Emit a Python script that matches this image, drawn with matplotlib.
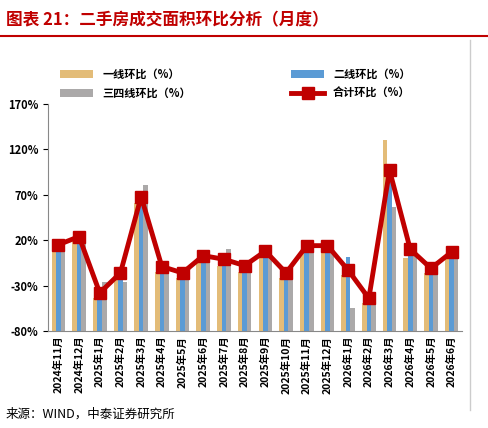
import matplotlib
matplotlib.use("Agg")
import matplotlib.pyplot as plt
import numpy as np

plt.rcParams['font.family'] = ['Noto Sans CJK SC', 'DejaVu Sans']

months = ['2024年11月','2024年12月','2025年1月','2025年2月','2025年3月','2025年4月','2025年5月',
          '2025年6月','2025年7月','2025年8月','2025年9月','2025年10月','2025年11月','2025年12月',
          '2026年1月','2026年2月','2026年3月','2026年4月','2026年5月','2026年6月']
tier1 = [9, 20, -44, -24, 61, -15, -22, -4, -8, -15, 0, -22, 7, 7, -18, -49, 130, 0, -16, 0]
tier2 = [9, 20, -44, -20, 62, -15, -22, -4, -6, -15, 0, -22, 7, 7, 1, -49, 90, 4, -16, 0]
tier34 = [9, 20, -26, -26, 81, -15, -22, -4, 10, -15, 0, -22, 7, 10, -55, -49, 57, 4, -16, 0]
total = [15, 24, -38, -16, 68, -9, -16, 3, -1, -8, 8, -16, 14, 14, -13, -44, 97, 10, -11, 7]

W, H = 488, 428
fig = plt.figure(figsize=(W/100, H/100), dpi=100)
ax = fig.add_axes([48/W, 1-331/H, (462-48)/W, (331-104)/H])

x = np.arange(len(months))
bw = 0.22
base = -80
ax.bar(x-bw, np.array(tier1)-base, bw, bottom=base, color='#E3BC78', label='一线环比（%）')
ax.bar(x, np.array(tier2)-base, bw, bottom=base, color='#5B9BD5', label='二线环比（%）')
ax.bar(x+bw, np.array(tier34)-base, bw, bottom=base, color='#ABA9A9', label='三四线环比（%）')
ax.plot(x, total, color='#C00000', lw=3.5, marker='s', ms=9, label='合计环比（%）')

ax.set_ylim(-80, 170)
ax.set_yticks([-80, -30, 20, 70, 120, 170])
ax.set_yticklabels([f'{v}%' for v in [-80, -30, 20, 70, 120, 170]], fontsize=8, fontweight='bold')
ax.set_xlim(-0.5, len(months)-0.5)
ax.set_xticks(x)
ax.set_xticklabels(months, rotation=90, fontsize=7.5, fontweight='bold')
ax.tick_params(axis='x', length=0)
for s in ['top', 'right']:
    ax.spines[s].set_visible(False)
ax.spines['left'].set_color('#888888')
ax.spines['bottom'].set_color('#888888')

h, l = ax.get_legend_handles_labels()
d = dict(zip(l, h))
order = ['一线环比（%）', '三四线环比（%）', '二线环比（%）', '合计环比（%）']
fig.legend([d[k] for k in order], order, ncol=2, loc='upper left',
           bbox_to_anchor=(50/W, 1-58/H), frameon=False, columnspacing=9,
           handlelength=3, prop={'weight': 'bold', 'size': 8})

fig.text(6/W, 1-20/H, '图表 21：二手房成交面积环比分析（月度）', color='#C00000',
         fontsize=12, fontweight='bold', style='italic', va='center')
fig.add_artist(plt.Line2D([0, 1], [1-36/H, 1-36/H], color='#C00000', lw=1.5))
fig.add_artist(plt.Line2D([470/W, 470/W], [1-410/H, 1-40/H], color='#CCCCCC', lw=1))
fig.text(6/W, 1-414/H, '来源：WIND，中泰证券研究所', fontsize=9, va='center')

fig.savefig('out.png', dpi=100)
